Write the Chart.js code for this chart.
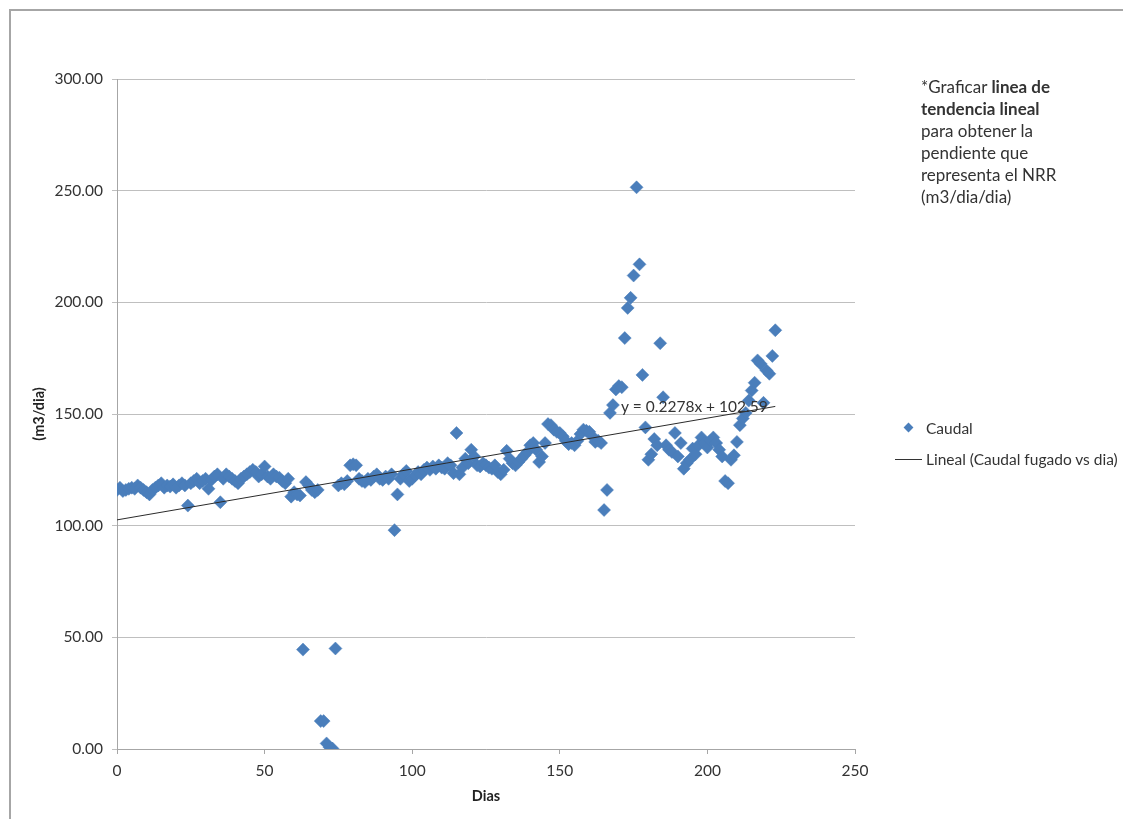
<!DOCTYPE html>
<html>
<head>
<meta charset="utf-8">
<script src="https://cdn.jsdelivr.net/npm/chart.js@4/dist/chart.umd.min.js"></script>
<style>
  html, body { margin: 0; padding: 0; background: #fff; overflow: hidden; }
  #wrap { position: relative; width: 1123px; height: 819px; overflow: hidden; }
  #frame { position: absolute; left: 9px; top: 9px; width: 1200px; height: 900px; border: 2px solid #a6a6a6; }
  #grafico { position: absolute; left: 0; top: 0; }
  .nota { position: absolute; left: 921px; top: 76px; font: 17px Lato, sans-serif; line-height: 22px; color: #333; }
  .nota b { font-weight: bold; }
  .ley { position: absolute; font: 15.5px Lato, sans-serif; color: #333; line-height: 20px; }
  .rombo { position: absolute; width: 7px; height: 7px; background: #4a7ebb; transform: rotate(45deg); }
  .linea { position: absolute; height: 1px; background: #333; }
</style>
</head>
<body>
<div id="wrap">
  <div id="frame"></div>
  <canvas id="grafico" width="1123" height="819"></canvas>
  <div class="nota">*Graficar <b>linea de<br>tendencia lineal</b><br>para obtener la<br>pendiente que<br>representa el NRR<br>(m3/dia/dia)</div>
  <div class="rombo" style="left:905px; top:424px;"></div>
  <div class="ley" style="left:926px; top:418px;">Caudal</div>
  <div class="linea" style="left:895px; top:459px; width:27px;"></div>
  <div class="ley" style="left:926px; top:449px;">Lineal (Caudal fugado vs dia)</div>
</div>
<script>
// dias de medicion
const dias = [
  0, 1, 2, 3, 4, 5, 6, 7, 8, 9, 10, 11, 12, 13, 14, 15, 16, 17, 18, 19,
  20, 21, 22, 23, 24, 25, 26, 27, 28, 29, 30, 31, 32, 33, 34, 35, 36, 37, 38, 39,
  40, 41, 42, 43, 44, 45, 46, 47, 48, 49, 50, 51, 52, 53, 54, 55, 56, 57, 58, 59,
  60, 61, 62, 63, 64, 65, 66, 67, 68, 69, 70, 71, 72, 73, 74, 75, 76, 77, 78, 79,
  80, 81, 82, 83, 84, 85, 86, 87, 88, 89, 90, 91, 92, 93, 94, 95, 96, 97, 98, 99,
  100, 101, 102, 103, 104, 105, 106, 107, 108, 109, 110, 111, 112, 113, 114, 115, 116, 117, 118, 119,
  120, 121, 122, 123, 124, 125, 126, 127, 128, 129, 130, 131, 132, 133, 134, 135, 136, 137, 138, 139,
  140, 141, 142, 143, 144, 145, 146, 147, 148, 149, 150, 151, 152, 153, 154, 155, 156, 157, 158, 159,
  160, 161, 162, 163, 164, 165, 166, 167, 168, 169, 170, 171, 172, 173, 174, 175, 176, 177, 178, 179,
  180, 181, 182, 183, 184, 185, 186, 187, 188, 189, 190, 191, 192, 193, 194, 195, 196, 197, 198, 199,
  200, 201, 202, 203, 204, 205, 206, 207, 208, 209, 210, 211, 212, 213, 214, 215, 216, 217, 218, 219,
  220, 221, 222, 223
];

// caudal (m3/dia)
const caudal = [
  116, 117, 115.5, 116, 116.5, 117, 116.5, 118, 117, 116, 115, 114, 116, 117, 118, 119, 117, 118, 117.5, 118.5,
  117, 118, 119, 118, 109, 119, 120, 121, 119, 120, 121, 116.5, 120.5, 122, 123, 110.5, 121, 123, 122, 121,
  120, 119, 121, 122, 123, 124, 125, 124, 122, 123, 126.5, 122, 121, 123, 122, 121.5, 120, 119, 121, 113,
  115, 114, 113.5, 44.5, 119.5, 118, 116, 115, 116, 12.5, 12.5, 2.5, 0.8, 0.2, 45, 118, 119, 118.5, 120, 127,
  127.5, 127, 121, 120, 119.5, 121, 120.5, 122, 123, 121, 120.5, 122, 121, 123, 98, 114, 121, 123, 124.5, 120,
  121, 122.5, 124, 123, 125, 126, 125, 126.5, 125.5, 127, 126, 125.5, 128, 127, 123.5, 141.5, 123, 126, 130, 128,
  134, 131, 127, 126.5, 128, 127, 126, 125.5, 127, 124, 123, 125, 133.5, 130, 128, 127, 128.5, 130, 131.5, 133,
  136, 137, 134, 128.5, 131, 137, 145.5, 145, 143, 142, 141.5, 140, 138, 136.5, 137, 136, 138, 141, 143, 142.5,
  142, 140, 137.5, 138, 137, 107, 116, 150.5, 154, 161, 162.5, 162, 184, 197.5, 202, 212, 251.5, 217, 167.5, 144,
  129.5, 132, 138.8, 136, 181.7, 157.5, 136, 134, 133, 141.5, 131, 137, 125.5, 128, 129.5, 134.5, 132, 136, 139.5, 137,
  135, 138, 139.5, 137, 134, 131, 120, 119, 129.5, 131.5, 137.5, 145, 148, 150.5, 156, 160.5, 164, 174, 172.5, 155,
  169.5, 168, 176, 187.5
];

// linea de tendencia (extremos)
const tendX = [0, 223];
const tendY = [102.59, 153.39];
const ecuacion = "y = 0.2278x + 102.59";

const xTicks = [0, 50, 100, 150, 200, 250];
const yTicks = [0, 50, 100, 150, 200, 250, 300];
const yLabels = ["0.00", "50.00", "100.00", "150.00", "200.00", "250.00", "300.00"];

const ecuacionPlugin = {
  id: "ecuacion",
  afterDatasetsDraw(chart) {
    const { ctx, scales } = chart;
    ctx.save();
    ctx.font = "15.5px Lato, sans-serif";
    ctx.fillStyle = "#333";
    ctx.textBaseline = "middle";
    ctx.fillText(ecuacion, scales.x.getPixelForValue(170.7), scales.y.getPixelForValue(153.3));
    ctx.restore();
  }
};

function dibujar() {
  const ctx = document.getElementById("grafico").getContext("2d");
  new Chart(ctx, {
    type: "scatter",
    data: {
      datasets: [
        {
          type: "line",
          label: "Lineal (Caudal fugado vs dia)",
          data: tendX.map((x, i) => ({ x, y: tendY[i] })),
          borderColor: "#2b2b2b",
          borderWidth: 1,
          pointRadius: 0,
          fill: false,
          order: 0
        },
        {
          label: "Caudal",
          data: dias.map((d, i) => ({ x: d, y: caudal[i] })),
          pointStyle: "rectRot",
          pointRadius: 6.5,
          backgroundColor: "#4a7ebb",
          borderColor: "#4a7ebb",
          borderWidth: 0.5,
          order: 1
        }
      ]
    },
    options: {
      responsive: false,
      animation: false,
      layout: { padding: { left: 0, right: 268, top: 79, bottom: 0 } },
      plugins: { legend: { display: false }, tooltip: { enabled: false } },
      scales: {
        x: {
          type: "linear",
          min: 0,
          max: 250,
          afterBuildTicks: s => { s.ticks = xTicks.map(v => ({ value: v })); },
          afterFit: s => { s.height = 70; },
          ticks: { color: "#333", font: { family: "Lato", size: 15.5 }, padding: 8, maxRotation: 0 },
          grid: { drawOnChartArea: false, drawTicks: true, tickLength: 5, color: "#a6a6a6" },
          border: { color: "#a6a6a6", width: 1 },
          title: {
            display: true, text: "Dias", color: "#222",
            font: { family: "Lato", size: 14.5, weight: "bold" },
            padding: { top: 0, bottom: 14 }
          }
        },
        y: {
          min: 0,
          max: 300,
          afterBuildTicks: s => { s.ticks = yTicks.map(v => ({ value: v })); },
          afterFit: s => { s.width = 117; },
          ticks: {
            color: "#333", font: { family: "Lato", size: 15.5 }, padding: 9,
            callback: v => yLabels[yTicks.indexOf(v)]
          },
          grid: { drawTicks: true, tickLength: 5, color: "#bfbfbf" },
          border: { color: "#a6a6a6", width: 1 },
          title: {
            display: true, text: "(m3/dia)", color: "#222",
            font: { family: "Lato", size: 14.5, weight: "bold" },
            padding: { top: 31, bottom: 0 }
          }
        }
      }
    },
    plugins: [ecuacionPlugin]
  });
}

document.fonts.load("15px Lato").then(dibujar, dibujar);
</script>
</body>
</html>
